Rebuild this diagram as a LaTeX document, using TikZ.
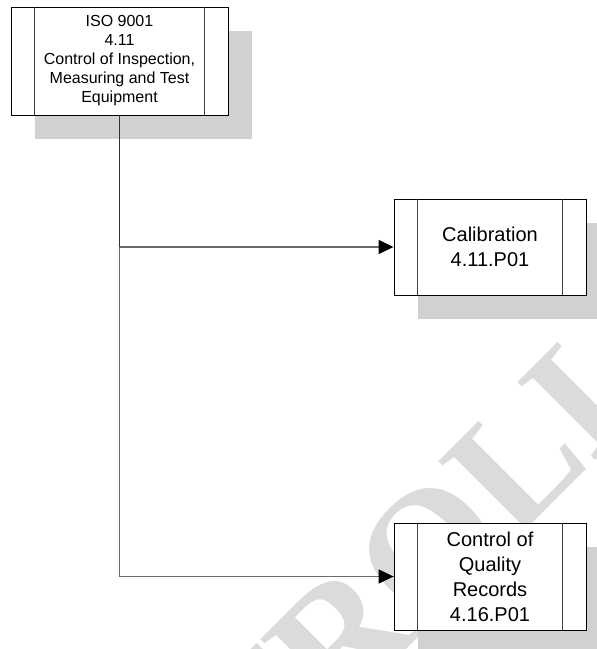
\documentclass[tikz,border=0pt]{standalone}
\usepackage{fontspec}
\setmainfont{Liberation Sans}
\newfontfamily\wmfont{Liberation Serif}
\usetikzlibrary{arrows.meta,shadows}
\begin{document}
\begin{tikzpicture}[x=1pt,y=1pt,
  procbox/.style={draw=black, line width=0.9pt, fill=white, rectangle, inner sep=0pt,
    align=center, minimum width=192pt,
    drop shadow={shadow xshift=24pt, shadow yshift=-24pt, fill=black!18, opacity=1}},
  bigtext/.style={font=\fontsize{20}{25}\selectfont},
  smalltext/.style={font=\fontsize{16}{19}\selectfont},
  conn/.style={draw=black!58, line width=1.5pt},
  trunk/.style={draw=black!80, line width=1.5pt},
  arr/.style={conn, -{Triangle[length=15pt,width=14pt,color=black]}},
  side/.style={draw=black!75, line width=0.8pt}]
\useasboundingbox (0,0) rectangle (597,649);
\fill[white] (0,0) rectangle (597,649);
% watermark
\node[text=black!14, anchor=base west, inner sep=0pt, rotate=45,
  font=\wmfont\bfseries\fontsize{168}{168}\selectfont] (wm) at (-7,-414) {CONTROLLED};
% boxes
\node[procbox, smalltext, minimum width=217pt, minimum height=108pt] (iso) at (119.5,588)
  {ISO 9001\\4.11\\Control of Inspection,\\Measuring and Test\\Equipment};
\node[procbox, bigtext, minimum height=96pt] (cal) at (490,402) {Calibration\\4.11.P01};
\node[procbox, bigtext, minimum height=107pt] (qual) at (490,72.5)
  {Control of\\Quality\\Records\\4.16.P01};
% inner side bars
\foreach \n in {iso, cal, qual}{
  \draw[side] ([xshift=24pt]\n.north west) -- ([xshift=24pt]\n.south west);
  \draw[side] ([xshift=-24pt]\n.north east) -- ([xshift=-24pt]\n.south east);
}
% connectors
\draw[conn] (iso.south) |- (qual.west);
\draw[trunk] (iso.south) -- (iso.south |- cal.west);
\draw[arr] (iso.south |- cal.west) -- (cal.west);
\draw[arr] ([xshift=200pt]iso.south |- qual.west) -- (qual.west);
\end{tikzpicture}
\end{document}
